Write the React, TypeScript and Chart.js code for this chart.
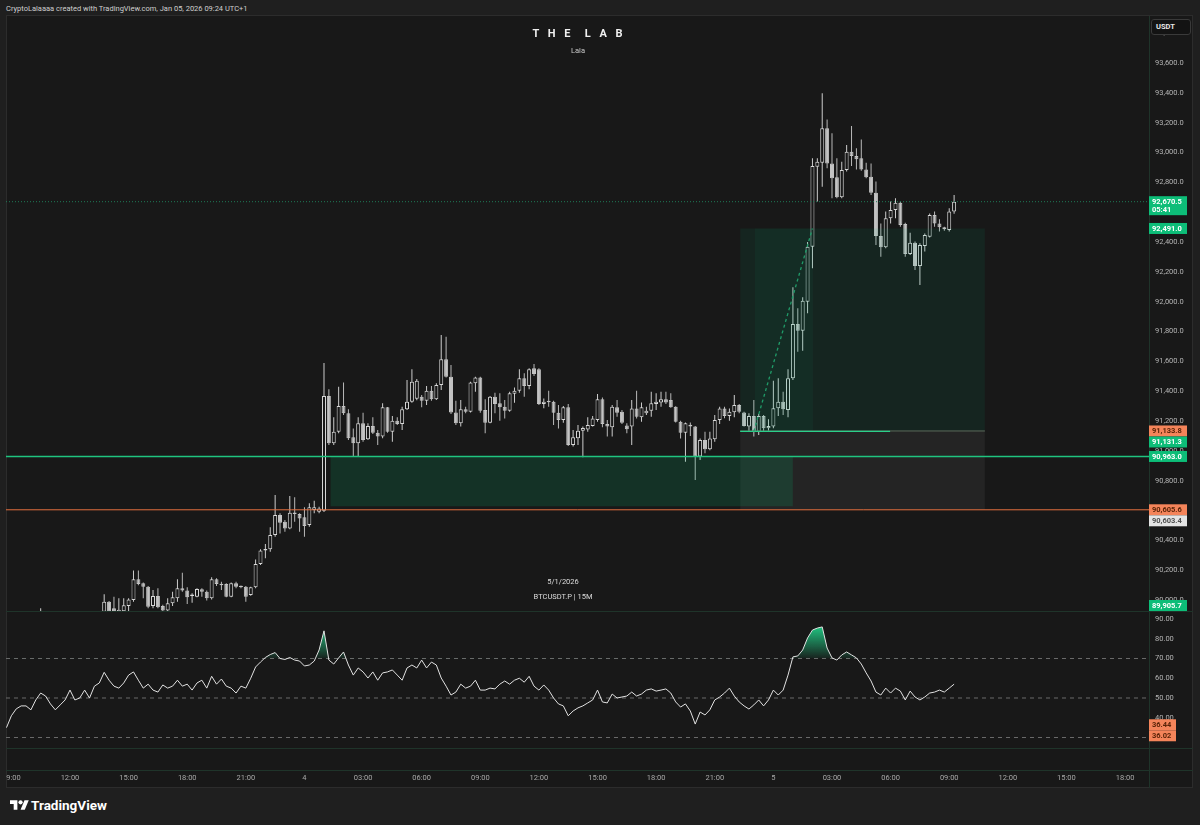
import React, { useEffect, useRef } from 'react';
import { Chart, registerables } from 'chart.js';

Chart.register(...registerables);

// ---------- DATA (15m candles, BTCUSDT.P, from Jan 3 08:45 to Jan 5 09:15) ----------
const opens = [
  89780, 89720, 89775, 89800, 89825, 89800, 89785, 89850, 89890, 89870,
  89835, 89815, 89830, 89855, 89890, 89850, 89870, 89900, 89870, 89905,
  89923, 89990, 89945, 89920, 89925, 89961, 90001, 90140, 90113, 90090,
  89961, 90028, 89961, 89930, 89979, 90012, 90079, 90064, 90028, 90023,
  90073, 90057, 90012, 90140, 90108, 90108, 90023, 90113, 90095, 90090,
  90035, 90086, 90242, 90332, 90341, 90437, 90571, 90526, 90481, 90586,
  90577, 90555, 90504, 90604, 90593, 90600, 91368, 91051, 91129, 91301,
  91252, 91091, 91051, 91185, 91078, 91167, 91122, 91096, 91292, 91129,
  91203, 91181, 91279, 91330, 91350, 91364, 91337, 91404, 91346, 91442,
  91614, 91498, 91257, 91185, 91279, 91263, 91453, 91493, 91274, 91189,
  91364, 91319, 91297, 91270, 91383, 91404, 91487, 91435, 91554, 91547,
  91315, 91330, 91330, 91256, 91207, 91292, 91040, 91085, 91136, 91144,
  91167, 91207, 91346, 91181, 91158, 91292, 91263, 91170, 91163, 91285,
  91225, 91252, 91270, 91315, 91325, 91346, 91341, 91297, 91196, 91122,
  91175, 91163, 90962, 91073, 91011, 91078, 91207, 91285, 91234, 91259,
  91308, 91257, 91163, 91234, 91129, 91234, 91152, 91163, 91286, 91330,
  91274, 91487, 91851, 91806, 92000, 92369, 92905, 92932, 93162, 92927,
  92834, 92700, 92883, 93006, 92977, 92961, 92887, 92838, 92731, 92441,
  92365, 92559, 92615, 92664, 92521, 92320, 92396, 92239, 92374, 92436,
  92581, 92525, 92499, 92481, 92604,
];
const highs = [
  89800, 89790, 89820, 89830, 89840, 89820, 89860, 89945, 89905, 89880,
  89850, 89850, 89870, 89900, 89900, 89880, 89910, 89915, 89920, 89925,
  90039, 89995, 90023, 90012, 90012, 90012, 90198, 90198, 90118, 90095,
  90068, 90079, 89970, 90012, 90057, 90140, 90184, 90086, 90046, 90079,
  90079, 90064, 90153, 90146, 90124, 90113, 90118, 90124, 90098, 90095,
  90090, 90273, 90341, 90376, 90488, 90705, 90582, 90537, 90698, 90689,
  90582, 90622, 90649, 90667, 90626, 91590, 91413, 91225, 91431, 91458,
  91279, 91151, 91225, 91256, 91185, 91225, 91140, 91319, 91295, 91234,
  91225, 91297, 91476, 91547, 91482, 91375, 91435, 91435, 91453, 91777,
  91766, 91576, 91337, 91341, 91297, 91464, 91498, 91498, 91346, 91368,
  91390, 91386, 91341, 91397, 91426, 91547, 91520, 91554, 91583, 91554,
  91352, 91404, 91337, 91308, 91301, 91315, 91140, 91174, 91163, 91225,
  91234, 91382, 91359, 91207, 91308, 91341, 91274, 91185, 91341, 91404,
  91324, 91297, 91397, 91386, 91397, 91397, 91386, 91300, 91203, 91190,
  91190, 91168, 91084, 91129, 91129, 91241, 91297, 91297, 91285, 91375,
  91315, 91263, 91252, 91341, 91248, 91241, 91212, 91471, 91487, 91397,
  91547, 92097, 91956, 92030, 92400, 92961, 92961, 93397, 93222, 93129,
  92961, 92939, 93050, 93178, 93028, 93088, 92932, 92927, 92805, 92525,
  92604, 92671, 92693, 92671, 92530, 92463, 92403, 92392, 92458, 92592,
  92604, 92552, 92503, 92626, 92715,
];
const lows = [
  89700, 89710, 89760, 89770, 89790, 89760, 89780, 89840, 89850, 89820,
  89800, 89810, 89825, 89850, 89840, 89840, 89855, 89860, 89860, 89890,
  89910, 89905, 89905, 89905, 89910, 89925, 89990, 90100, 90012, 89945,
  89945, 89945, 89925, 89923, 89961, 89990, 90057, 89975, 89983, 90019,
  90023, 89997, 90005, 90095, 90068, 90019, 90019, 90079, 90080, 89990,
  90030, 90079, 90236, 90280, 90325, 90425, 90447, 90459, 90475, 90526,
  90459, 90425, 90492, 90582, 90582, 90590, 91040, 91040, 91118, 91241,
  91073, 90966, 90966, 91062, 91073, 91113, 91040, 91085, 91122, 91062,
  91174, 91140, 91274, 91323, 91340, 91292, 91308, 91337, 91341, 91408,
  91493, 91248, 91174, 91163, 91252, 91257, 91397, 91256, 91118, 91185,
  91252, 91203, 91218, 91263, 91323, 91390, 91364, 91413, 91502, 91308,
  91286, 91297, 91174, 91151, 91189, 91033, 91029, 91040, 90957, 91129,
  91163, 91196, 91158, 91096, 91096, 91230, 91180, 91118, 91040, 91218,
  91196, 91241, 91230, 91274, 91297, 91315, 91290, 91190, 91084, 90928,
  91100, 90805, 90939, 90984, 91005, 91062, 91181, 91219, 91203, 91225,
  91252, 91163, 91129, 91096, 91107, 91129, 91136, 91152, 91234, 91241,
  91225, 91476, 91665, 91672, 91922, 92224, 92671, 92771, 92894, 92693,
  92693, 92693, 92872, 92910, 92887, 92878, 92827, 92715, 92380, 92302,
  92358, 92525, 92559, 92503, 92302, 92313, 92213, 92112, 92336, 92430,
  92503, 92470, 92476, 92470, 92590,
];
const closes = [
  89720, 89775, 89800, 89825, 89800, 89785, 89850, 89890, 89870, 89835,
  89815, 89830, 89855, 89890, 89850, 89870, 89900, 89870, 89905, 89920,
  89990, 89923, 89925, 89935, 89965, 90005, 90140, 90108, 90090, 89956,
  90028, 89952, 89930, 89979, 90019, 90079, 90064, 90019, 90035, 90075,
  90057, 90012, 90140, 90108, 90100, 90023, 90113, 90090, 90086, 90023,
  90086, 90242, 90332, 90341, 90437, 90571, 90519, 90481, 90586, 90577,
  90548, 90497, 90622, 90622, 90615, 91368, 91051, 91129, 91301, 91252,
  91085, 91051, 91185, 91073, 91167, 91122, 91096, 91292, 91129, 91203,
  91181, 91279, 91330, 91464, 91471, 91337, 91404, 91346, 91442, 91614,
  91498, 91257, 91185, 91279, 91263, 91458, 91493, 91270, 91189, 91364,
  91315, 91292, 91270, 91386, 91404, 91487, 91435, 91547, 91516, 91315,
  91330, 91326, 91256, 91207, 91292, 91040, 91091, 91136, 91154, 91174,
  91218, 91346, 91181, 91163, 91297, 91256, 91189, 91145, 91285, 91230,
  91292, 91270, 91319, 91330, 91346, 91324, 91292, 91196, 91122, 91185,
  91163, 90962, 91073, 91011, 91084, 91207, 91285, 91234, 91263, 91308,
  91263, 91167, 91234, 91129, 91234, 91152, 91167, 91286, 91330, 91279,
  91487, 91851, 91806, 92007, 92369, 92910, 92939, 93162, 92927, 92827,
  92700, 92883, 93006, 92977, 92955, 92887, 92834, 92731, 92441, 92365,
  92559, 92615, 92664, 92514, 92320, 92396, 92239, 92380, 92447, 92581,
  92525, 92499, 92485, 92604, 92670.5,
];
const rsiValues = [
  35, 41, 44.5, 46, 46, 44, 49, 52.5, 51, 47,
  44, 46.5, 49, 54, 49, 50, 54, 50, 56, 57.6,
  63, 59, 56, 55, 57.6, 61.6, 63.2, 59, 55, 57,
  54, 53, 56.6, 55, 56, 59, 56, 57, 54, 57.6,
  59, 55, 61, 57, 59.6, 56, 55, 52.5, 56, 55,
  60, 65.7, 68.2, 70.5, 72, 73, 70, 69.5, 70.5, 69.2,
  68.7, 66.2, 66.7, 68.7, 74.3, 84, 69.2, 67.2, 70.3, 73.3,
  66.7, 61.6, 65.2, 63.2, 60.1, 63.2, 59, 62.7, 63.2, 64.2,
  61.6, 59, 65.2, 66.7, 65.2, 69.2, 65.2, 68.2, 66.7, 60.1,
  56, 51.5, 53, 57, 55, 56, 59, 54, 54, 55,
  54.6, 57, 58.6, 57, 59, 60, 58, 61, 56, 54,
  56.6, 54, 50, 47, 46, 41, 43.4, 45, 46, 47.5,
  49, 54, 48, 47.5, 52, 50, 50.5, 51, 53, 51,
  52, 54, 54.6, 53.5, 54, 54.6, 52.5, 48, 45.4, 47,
  43.4, 36.8, 42.9, 41.4, 44, 49, 50.5, 52.5, 55, 51,
  48, 46, 44.4, 46.5, 49, 46, 49, 54, 51.5, 54,
  61.6, 70.8, 71.3, 74.3, 80.4, 84.4, 85.4, 86, 75.3, 70.3,
  69.2, 71.8, 73.3, 71.8, 70.3, 67.2, 62.7, 58.6, 53, 51.5,
  55, 52.5, 55, 53.5, 49, 53.5, 50.5, 49, 50.5, 52.5,
  53, 54, 53, 55, 57,
];
const rsiLevels = [70, 50, 30];
const rsiTicks = [30, 40, 50, 60, 70, 80, 90];
const rsiTagValues = [36.44, 36.02];
const rsiTagKinds = ['orange', 'orange'];

const priceTicks = [90000, 90200, 90400, 90600, 90800, 91000, 91200, 91400, 91600, 91800, 92000, 92200, 92400, 92600, 92800, 93000, 93200, 93400, 93600, 93800];

const timeTickIndex = [1, 13, 25, 37, 49, 61, 73, 85, 97, 109, 121, 133, 145, 157, 169, 181, 193, 205, 217, 229];
const timeTickLabels = ['09:00', '12:00', '15:00', '18:00', '21:00', '4', '03:00', '06:00', '09:00', '12:00', '15:00', '18:00', '21:00', '5', '03:00', '06:00', '09:00', '12:00', '15:00', '18:00'];

const lastPrice = 92670.5;
const countdown = '05:41';
const keyLevels = [90963.0, 90605.6];
const demandZone = [90963.0, 90630.0];
const demandSpan = [66.3, 161.0];
const positionEntry = 91131.3;
const positionEntryAlt = 91133.8;
const positionTarget = 92491.0;
const positionStop = 90605.6;
const positionSpan = [150.2, 200.3];
const hitSpan = [153.2, 165.1];
const entryLineEnd = 180.9;
const tradePathIdx = [153, 165];
const tradePathPrice = [91131.3, 92491.0];

const priceTagValues = [lastPrice, positionTarget, positionEntryAlt, positionEntry, 90963.0, 90605.6, 90603.4, 89905.7];
const priceTagKinds = ['green', 'green', 'orange', 'green', 'green', 'orange', 'white', 'green'];
const priceTagSubs = [countdown, '', '', '', '', '', '', ''];

// ---------- AXIS EXTENTS ----------
const X_MIN = -0.1;
const X_MAX = 233.9;
const PRICE_MIN = 89927.3;
const PRICE_MAX = 93921.7;
const RSI_MIN = 24.68;
const RSI_MAX = 93.54;

// ---------- STYLE ----------
const BG = '#181818';
const OUTER = '#1f1f1f';
const SEP = '#1f342a';
const FONT = 'Roboto, "Liberation Sans", Arial, sans-serif';
const TAG_STYLE: Record<string, { bg: string; fg: string }> = {
  green: { bg: '#0dbd78', fg: '#ffffff' },
  orange: { bg: '#f4845a', fg: '#5a2408' },
  white: { bg: '#e4e4e4', fg: '#505050' },
};

Chart.defaults.font.family = FONT;

const fmtPrice = (v: number) =>
  v.toLocaleString('en-US', { minimumFractionDigits: 1, maximumFractionDigits: 1 });
const fmtRsi = (v: number) => v.toFixed(2);

const segment = (y: number, x0 = X_MIN, x1 = X_MAX) => [
  { x: x0, y },
  { x: x1, y },
];

function lineDs(data: any[], color: string, width: number, dash: number[] = [], order = 0) {
  return {
    type: 'line',
    data,
    borderColor: color,
    borderWidth: width,
    borderDash: dash,
    pointRadius: 0,
    pointHoverRadius: 0,
    fill: false,
    tension: 0,
    order,
  };
}

function zoneDs(span: number[], top: number, bottom: number, color: string, order = 1) {
  const edge = 'rgba(0,0,0,0)';
  return [
    {
      type: 'line',
      data: segment(top, span[0], span[1]),
      borderColor: edge,
      borderWidth: 0,
      backgroundColor: color,
      pointRadius: 0,
      fill: '+1',
      order,
    },
    {
      type: 'line',
      data: segment(bottom, span[0], span[1]),
      borderColor: edge,
      borderWidth: 0,
      pointRadius: 0,
      fill: false,
      order,
    },
  ];
}

function axisTags(id: string, values: number[], kinds: string[], subs: string[], width: number, fmt: (v: number) => string) {
  return {
    id,
    afterDraw(chart: any) {
      const { ctx, chartArea } = chart;
      const ys = chart.scales.y;
      const items = values
        .map((v, i) => ({ v, kind: kinds[i], sub: subs[i], y: ys.getPixelForValue(v) }))
        .sort((a, b) => a.y - b.y);
      let prevBottom = -Infinity;
      ctx.save();
      ctx.font = `bold 7.5px ${FONT}`;
      ctx.textBaseline = 'middle';
      ctx.textAlign = 'left';
      for (const it of items) {
        const h = it.sub ? 19 : 11;
        let top = Math.max(it.y - 5.5, prevBottom);
        if (top + h > chartArea.bottom) top = chartArea.bottom - h;
        if (top < chartArea.top) top = chartArea.top;
        const st = TAG_STYLE[it.kind];
        ctx.fillStyle = st.bg;
        ctx.fillRect(chartArea.right, top, width, h);
        ctx.fillStyle = st.fg;
        ctx.fillText(fmt(it.v), chartArea.right + 3, top + 6);
        if (it.sub) ctx.fillText(it.sub, chartArea.right + 3, top + 14);
        prevBottom = top + h;
      }
      ctx.restore();
    },
  };
}

const noPad = (s: any) => {
  s.paddingLeft = 0;
  s.paddingRight = 0;
  s.paddingTop = 0;
  s.paddingBottom = 0;
};

const idx = opens.map((_, i) => i);
const isUp = idx.map((i) => closes[i] >= opens[i]);

function priceConfig(): any {
  return {
    type: 'bar',
    data: {
      datasets: [
        lineDs(
          tradePathIdx.map((x, k) => ({ x, y: tradePathPrice[k] })),
          '#1f9c69',
          1.3,
          [3, 3],
          0
        ),
        lineDs(segment(lastPrice), '#1f7a57', 1, [1, 2], 0),
        lineDs(segment(keyLevels[0]), '#1fc47f', 1.6, [], 0),
        lineDs(segment(keyLevels[1]), '#e4703f', 1, [], 0),
        lineDs(segment(positionEntry, positionSpan[0], entryLineEnd), '#2bcf8a', 1.4, [], 0),
        lineDs(segment(positionEntryAlt, positionSpan[0], positionSpan[1]), '#5e6b5c', 1, [], 0),
        ...zoneDs(demandSpan, demandZone[0], demandZone[1], 'rgba(0,200,120,0.15)'),
        ...zoneDs(positionSpan, positionTarget, positionEntry, 'rgba(0,190,130,0.085)'),
        ...zoneDs(hitSpan, positionTarget, positionEntry, 'rgba(0,190,130,0.05)'),
        ...zoneDs(positionSpan, positionEntry, positionStop, 'rgba(255,255,255,0.055)'),
        {
          type: 'bar',
          data: idx.map((i) => ({ x: i, y: [Math.min(opens[i], closes[i]), Math.max(opens[i], closes[i])] })),
          backgroundColor: idx.map((i) => (isUp[i] ? BG : '#c4c4c4')),
          borderColor: idx.map((i) => (isUp[i] ? '#d8d8d8' : '#c4c4c4')),
          borderWidth: 1,
          borderSkipped: false,
          barThickness: 4,
          grouped: false,
          minBarLength: 1.5,
          inflateAmount: 0,
          order: 2,
        },
        {
          type: 'bar',
          data: idx.map((i) => ({ x: i, y: [lows[i], highs[i]] })),
          backgroundColor: idx.map((i) => (isUp[i] ? '#cdcdcd' : '#b9b9b9')),
          borderWidth: 0,
          barThickness: 1,
          grouped: false,
          inflateAmount: 0,
          order: 3,
        },
      ],
    },
    options: {
      responsive: false,
      animation: false,
      events: [],
      layout: { padding: 0, autoPadding: false },
      plugins: { legend: { display: false }, tooltip: { enabled: false } },
      scales: {
        x: { type: 'linear', min: X_MIN, max: X_MAX, display: false, offset: false },
        y: {
          type: 'linear',
          position: 'right',
          min: PRICE_MIN,
          max: PRICE_MAX,
          grid: { display: false, drawTicks: false },
          border: { display: false },
          afterBuildTicks: (s: any) => {
            s.ticks = priceTicks.map((v) => ({ value: v }));
          },
          ticks: {
            padding: 6,
            color: '#b4b4b4',
            font: { family: FONT, size: 7.5 },
            callback: (v: any) => fmtPrice(Number(v)),
          },
          afterFit: (s: any) => {
            s.width = 43;
            noPad(s);
          },
        },
      },
    },
    plugins: [axisTags('priceTags', priceTagValues, priceTagKinds, priceTagSubs, 38, fmtPrice)],
  };
}

function rsiConfig(): any {
  return {
    type: 'line',
    data: {
      datasets: [
        {
          data: idx.map((i) => ({ x: i, y: rsiValues[i] })),
          borderColor: '#e2e2e2',
          borderWidth: 1,
          pointRadius: 0,
          tension: 0,
          fill: { target: { value: 70 }, below: 'rgba(0,0,0,0)' },
          backgroundColor: (c: any) => {
            const ch = c.chart;
            const ys = ch.scales && ch.scales.y;
            if (!ch.chartArea || !ys) return 'rgba(34,214,140,0.3)';
            const g = ch.ctx.createLinearGradient(0, ys.getPixelForValue(87), 0, ys.getPixelForValue(70));
            g.addColorStop(0, 'rgba(34,214,140,0.95)');
            g.addColorStop(1, 'rgba(34,214,140,0.06)');
            return g;
          },
          order: 0,
        },
        ...rsiLevels.map((l) => lineDs(segment(l), '#6a6a6a', 1, [4, 4], 1)),
      ],
    },
    options: {
      responsive: false,
      animation: false,
      events: [],
      layout: { padding: { top: 1, left: 0, right: 0, bottom: 0 }, autoPadding: false },
      plugins: { legend: { display: false }, tooltip: { enabled: false } },
      scales: {
        x: {
          type: 'linear',
          min: X_MIN,
          max: X_MAX,
          offset: false,
          afterBuildTicks: (s: any) => {
            s.ticks = timeTickIndex.map((v) => ({ value: v }));
          },
          ticks: {
            autoSkip: false,
            maxRotation: 0,
            minRotation: 0,
            padding: 26,
            color: '#a8a8a8',
            font: { family: FONT, size: 7.5 },
            callback: (v: any) => {
              const k = timeTickIndex.indexOf(Number(v));
              return k >= 0 ? timeTickLabels[k] : '';
            },
          },
          grid: { display: false, drawTicks: false },
          border: { display: false },
          afterFit: (s: any) => {
            s.height = 40;
            noPad(s);
          },
        },
        y: {
          type: 'linear',
          position: 'right',
          min: RSI_MIN,
          max: RSI_MAX,
          grid: { display: false, drawTicks: false },
          border: { display: false },
          afterBuildTicks: (s: any) => {
            s.ticks = rsiTicks.map((v) => ({ value: v }));
          },
          ticks: {
            padding: 6,
            color: '#b4b4b4',
            font: { family: FONT, size: 7.5 },
            callback: (v: any) => fmtRsi(Number(v)),
          },
          afterFit: (s: any) => {
            s.width = 43;
            noPad(s);
          },
        },
      },
    },
    plugins: [axisTags('rsiTags', rsiTagValues, rsiTagKinds, ['', ''], 27, fmtRsi)],
  };
}

const abs = (s: React.CSSProperties): React.CSSProperties => ({ position: 'absolute', ...s });

export default function App() {
  const priceRef = useRef<HTMLCanvasElement>(null);
  const rsiRef = useRef<HTMLCanvasElement>(null);

  useEffect(() => {
    document.body.style.margin = '0';
    document.body.style.background = OUTER;
    const a = new Chart(priceRef.current as HTMLCanvasElement, priceConfig());
    const b = new Chart(rsiRef.current as HTMLCanvasElement, rsiConfig());
    return () => {
      a.destroy();
      b.destroy();
    };
  }, []);

  return (
    <div style={{ position: 'fixed', left: 0, top: 0, width: 1200, height: 825, background: OUTER, overflow: 'hidden', fontFamily: FONT }}>
      <div style={abs({ left: 6, top: 4, fontSize: 7.5, lineHeight: '10px', color: '#cfcfcf', whiteSpace: 'nowrap' })}>
        CryptoLalaaaa created with TradingView.com, Jan 05, 2026 09:24 UTC+1
      </div>
      <div style={abs({ left: 6, top: 15, width: 1187, height: 773, background: BG, boxSizing: 'border-box', border: '1px solid #2c2c2c' })} />
      <div style={abs({ left: 1149, top: 16, width: 1, height: 772, background: SEP })} />
      <div style={abs({ left: 6, top: 611, width: 1187, height: 1, background: SEP })} />
      <div style={abs({ left: 6, top: 748, width: 1187, height: 1, background: SEP })} />
      <div style={abs({ left: 6, top: 770, width: 1187, height: 1, background: SEP })} />

      <canvas ref={priceRef} width={1186} height={596} style={abs({ left: 6, top: 15 })} />
      <canvas ref={rsiRef} width={1186} height={177} style={abs({ left: 6, top: 611 })} />

      <div style={abs({ left: 1151, top: 19, width: 40, height: 16, boxSizing: 'border-box', background: '#131313', border: '1px solid #3a3a3a', borderRadius: 3, color: '#e8e8e8', fontSize: 7.5, fontWeight: 700, lineHeight: '14px', paddingLeft: 4 })}>
        USDT
      </div>

      <div style={abs({ left: 579, top: 27, transform: 'translateX(-50%)', color: '#f0f0f0', fontSize: 11, fontWeight: 700, letterSpacing: 3, whiteSpace: 'pre', lineHeight: '13px' })}>
        {'T H E  L A B'}
      </div>
      <div style={abs({ left: 578, top: 46, transform: 'translateX(-50%)', color: '#c8c8c8', fontSize: 7.5, lineHeight: '10px' })}>Lala</div>

      <div style={abs({ left: 563, top: 577, transform: 'translateX(-50%)', color: '#dcdcdc', fontSize: 7.5, lineHeight: '10px', whiteSpace: 'nowrap' })}>5/1/2026</div>
      <div style={abs({ left: 563, top: 592, transform: 'translateX(-50%)', color: '#dcdcdc', fontSize: 7.5, lineHeight: '10px', whiteSpace: 'nowrap' })}>BTCUSDT.P | 15M</div>

      <svg width="19" height="15" viewBox="0 0 36 28" style={abs({ left: 10, top: 798 })}>
        <path d="M14 22H7V11H0V4h14v18z" fill="#ffffff" />
        <circle cx="20" cy="8" r="4" fill="#ffffff" />
        <path d="M28 22h-8l7.5-18h8L28 22z" fill="#ffffff" />
      </svg>
      <div style={abs({ left: 31, top: 797, color: '#ffffff', fontSize: 13.5, fontWeight: 700, lineHeight: '16px', whiteSpace: 'nowrap' })}>TradingView</div>
    </div>
  );
}
